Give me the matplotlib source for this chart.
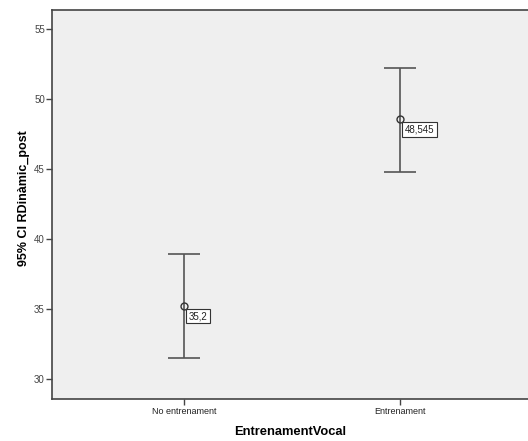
import matplotlib
matplotlib.use("Agg")
import matplotlib.pyplot as plt

categories = ["No entrenament", "Entrenament"]
means = [35.2, 48.545]
lower = [31.5, 44.8]
upper = [38.9, 52.2]
mean_labels = ["35,2", "48,545"]
yticks = [30, 35, 40, 45, 50, 55]

plt.rcParams['font.family'] = ['Liberation Sans', 'DejaVu Sans']

fig = plt.figure(figsize=(5.28, 4.41), dpi=100)
ax = fig.add_axes([52/528, 1 - 399/441, 476/528, (399 - 10)/441])
ax.set_facecolor('#efefef')

x = list(range(len(categories)))
yerr = [[m - l for m, l in zip(means, lower)], [u - m for m, u in zip(means, upper)]]
ax.errorbar(x, means, yerr=yerr, fmt='none', ecolor='#555555', elinewidth=1.2,
            capsize=11.5, capthick=1.2, zorder=2)
ax.plot(x, means, 'o', mfc='none', mec='#333333', ms=5, mew=1, zorder=3)

for xi, m, lab in zip(x, means, mean_labels):
    ax.annotate(lab, (xi, m), xytext=(3.5, -3.5), textcoords='offset points',
                ha='left', va='top', fontsize=7, color='#222222',
                bbox=dict(boxstyle='square,pad=0.25', fc='white', ec='#333333', lw=0.8))

ax.set_xlim(-132/216, 1 + 128/216)
ax.set_ylim(30 - 20/14, 55 + 19/14)
ax.set_xticks(x)
ax.set_xticklabels(categories, fontsize=6.5, color='#222222')
ax.set_yticks(yticks)
ax.set_yticklabels([str(t) for t in yticks], fontsize=7, color='#444444')
ax.tick_params(axis='x', length=4, width=1, color='#444444', pad=2)
ax.tick_params(axis='y', length=4.3, width=1, color='#444444', pad=0.8)

for side in ['left', 'bottom', 'top']:
    ax.spines[side].set_color('#444444')
    ax.spines[side].set_linewidth(1.2)
ax.spines['right'].set_visible(False)

ax.set_xlabel('EntrenamentVocal', fontsize=9.3, fontweight='bold', labelpad=7)
ax.set_ylabel('95% CI RDinàmic_post', fontsize=9, fontweight='bold', labelpad=3)
ax.yaxis.set_label_coords(-0.047, 0.517)

fig.savefig('out.png', dpi=100)
